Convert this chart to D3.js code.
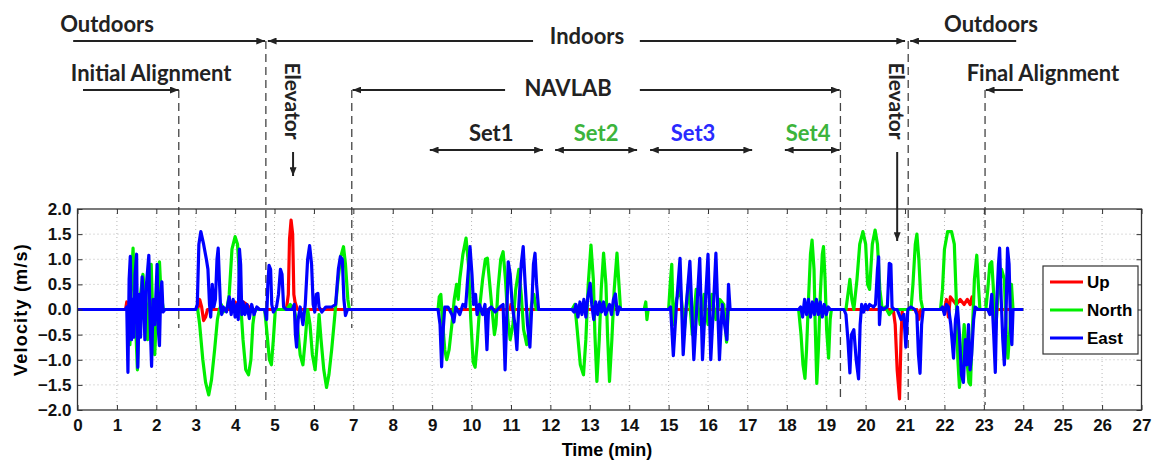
<!DOCTYPE html>
<html>
<head>
<meta charset="utf-8">
<script src="https://cdn.jsdelivr.net/npm/d3@7"></script>
<style>
  html, body { margin: 0; padding: 0; background: #fff; }
  svg { display: block; }
  .tick text { font-family: 'Liberation Sans', Arial, sans-serif; font-weight: bold; font-size: 17px; fill: #111; }
</style>
</head>
<body>
<svg id="chart" width="1155" height="461"></svg>
<script>
// Velocity components (m/s) against time (min), as [time, value] pairs
const upSeries = [
  [0,0],[1.22,0],[1.25,0.15],[1.28,-0.05],[1.32,0],
  [3.05,0],[3.1,0.2],[3.15,0.05],[3.2,-0.22],[3.25,-0.15],[3.3,0],
  [3.9,0],[3.95,0.1],[4.0,0.15],[4.1,0.05],[4.2,0.15],[4.3,0.1],[4.4,0],
  [5.3,0],[5.35,0.3],[5.38,1.4],[5.42,1.78],[5.46,1.5],[5.49,0.3],[5.52,0.15],[5.58,0],
  [10.98,0],[11.0,0.1],[11.03,0],
  [20.7,0],[20.75,-0.3],[20.8,-1.2],[20.86,-1.78],[20.9,-0.5],[20.93,0],
  [21.3,0],[21.35,-0.2],[21.4,0],
  [22.0,0],[22.05,0.2],[22.1,-0.15],[22.15,0.25],[22.25,0.15],[22.3,0.1],[22.4,0.2],
  [22.5,0.1],[22.58,0.2],[22.65,0.1],[22.7,0.25],[22.75,0],[24,0]
];

const northSeries = [
  [0,0],[1.3,0],[1.33,-0.7],[1.37,0.6],[1.41,1.22],[1.45,0.3],[1.49,-0.6],[1.52,-1.2],[1.56,-0.3],
  [1.6,0.3],[1.66,0.7],[1.72,0.2],[1.78,-0.6],[1.82,0.4],[1.87,0.9],[1.92,-0.4],[1.96,-0.9],
  [2.02,0.2],[2.08,0.95],[2.12,0.3],[2.18,0],
  [3.05,0],[3.1,-0.3],[3.18,-1.0],[3.25,-1.45],[3.33,-1.7],[3.4,-1.4],[3.48,-0.8],[3.55,-0.2],
  [3.6,0],[3.65,0.1],[3.7,-0.05],[3.8,0.05],[3.85,0.3],[3.92,1.2],[4.0,1.45],[4.06,1.3],[4.1,0.8],
  [4.15,0],[4.2,-0.6],[4.27,-1.2],[4.34,-1.3],[4.4,-1.0],[4.45,-0.3],[4.5,0],
  [4.75,0],[4.8,-0.4],[4.87,-1.0],[4.92,-1.1],[4.97,-0.6],[5.02,0],[5.3,0],[5.4,0.1],[5.5,0],
  [5.58,-0.3],[5.65,-0.9],[5.72,-1.1],[5.78,-0.6],[5.84,0],[5.9,-0.3],[5.96,-0.9],[6.03,-1.2],
  [6.08,-0.7],[6.13,-0.1],[6.18,-0.6],[6.25,-1.2],[6.32,-1.55],[6.38,-1.3],[6.45,-0.8],[6.52,-0.2],
  [6.6,0.5],[6.68,1.05],[6.75,1.25],[6.8,0.9],[6.86,0.2],[6.9,0],
  [9.15,0],[9.18,0.25],[9.22,0.3],[9.26,-0.2],[9.32,-0.8],[9.37,-1.0],[9.43,-0.8],[9.5,-0.3],
  [9.56,0.2],[9.62,0.5],[9.66,0.2],[9.7,0.6],[9.78,1.1],[9.86,1.42],[9.92,0.9],[9.98,-0.2],
  [10.04,-1.05],[10.09,-1.15],[10.14,-0.7],[10.2,0],[10.28,0.6],[10.35,1.0],[10.4,1.02],[10.45,0.6],
  [10.52,0],[10.58,-0.5],[10.62,-0.3],[10.67,0.4],[10.74,1.0],[10.8,1.15],[10.86,0.6],[10.92,-0.2],
  [10.98,-0.6],[11.05,-0.3],[11.12,0.4],[11.2,0.8],[11.26,0.3],[11.32,-0.4],[11.4,-0.7],[11.46,-0.4],
  [11.52,0.1],[11.58,0.3],[11.64,0],
  [12.55,0],[12.62,0.1],[12.68,-0.4],[12.76,-1.1],[12.84,-1.3],[12.9,-0.6],[12.96,0.5],[13.03,1.28],
  [13.09,0.6],[13.13,-0.5],[13.18,-1.43],[13.24,-0.6],[13.29,0.4],[13.35,1.12],[13.41,0.5],[13.45,-0.5],
  [13.5,-1.43],[13.56,-0.6],[13.62,0.4],[13.69,1.12],[13.74,0.5],[13.78,0],
  [14.38,0],[14.42,0.15],[14.45,-0.2],[14.48,0],
  [15.0,0],[15.04,0.5],[15.08,0.9],[15.12,-0.3],[15.2,0.2],[15.3,0.4],[15.4,-0.4],[15.5,0.5],
  [15.6,-0.5],[15.7,0.4],[15.8,-0.3],[15.9,0.3],[16.0,-0.3],[16.1,0.3],[16.2,-0.2],[16.3,0.2],
  [16.4,0.1],[16.47,-0.65],[16.52,0.05],[16.55,0],
  [18.3,0],[18.36,-0.5],[18.41,-1.1],[18.46,-1.37],[18.5,-0.8],[18.55,0.2],[18.6,1.1],[18.64,1.38],
  [18.69,0.8],[18.72,-0.3],[18.76,-1.47],[18.8,-0.8],[18.85,0.3],[18.9,1.1],[18.93,1.25],[18.97,0.6],
  [19.01,-0.4],[19.06,-0.97],[19.1,-0.2],[19.13,0],
  [19.5,0],[19.55,0.3],[19.6,0.6],[19.65,0.2],[19.7,0],[19.78,0.6],[19.85,1.3],[19.93,1.55],
  [20.0,1.3],[20.05,0.5],[20.1,0.4],[20.17,1.3],[20.24,1.58],[20.3,1.3],[20.36,0.4],[20.42,0],
  [20.5,0.05],[20.6,-0.1],[20.7,0],
  [21.15,0],[21.2,0.5],[21.26,1.3],[21.3,1.5],[21.35,1.0],[21.4,0.2],[21.45,0],
  [21.9,0],[21.95,0.4],[22.0,1.2],[22.08,1.55],[22.18,1.55],[22.25,1.3],[22.3,0.2],[22.34,-1.0],
  [22.38,-1.55],[22.44,-1.0],[22.5,-0.3],[22.56,-0.9],[22.62,-1.45],[22.66,-1.5],[22.7,-0.6],
  [22.76,0.6],[22.82,1.08],[22.86,0.5],[22.9,0],
  [23.05,0],[23.1,0.4],[23.15,0.9],[23.2,0.95],[23.25,0.3],[23.3,-0.4],[23.35,0.2],[23.45,0.8],
  [23.52,0.6],[23.57,-0.5],[23.61,-0.97],[23.66,-0.4],[23.7,0.5],[23.74,0],[24,0]
];

const eastSeries = [
  [0,0],[1.22,0],
  [1.25,0.05],[1.28,-1.25],[1.31,0.6],[1.34,1.06],[1.37,-0.6],[1.4,0.2],[1.43,-0.55],[1.46,0.7],
  [1.5,1.1],[1.53,-1.15],[1.57,0.3],[1.6,-0.55],[1.64,0.65],[1.68,0.15],[1.71,-0.6],[1.75,0.5],
  [1.81,1.08],[1.84,-0.2],[1.88,-1.13],[1.92,0.2],[1.96,-0.3],[2.02,0.9],[2.05,-0.4],[2.08,-0.72],
  [2.11,0.3],[2.14,0.55],[2.17,-0.05],[2.22,0],
  [3.0,0],[3.04,0.1],[3.08,1.3],[3.13,1.55],[3.2,1.3],[3.27,1.0],[3.31,0.8],[3.35,0.1],[3.38,-0.15],
  [3.42,0.5],[3.46,0.05],[3.5,0.2],[3.54,1.0],[3.57,1.22],[3.6,0.6],[3.63,0.05],[3.66,-0.1],[3.7,0.05],
  [3.78,-0.05],[3.85,0.25],[3.9,-0.1],[3.95,0.2],[4.0,-0.15],[4.05,0.1],[4.08,-0.2],[4.11,1.2],
  [4.14,0.9],[4.17,-0.1],[4.2,0.15],[4.25,-0.1],[4.3,0.1],[4.36,-0.18],[4.42,0.1],[4.48,-0.1],
  [4.55,0.05],[4.62,0],
  [4.75,0],[4.8,-0.2],[4.83,0.5],[4.86,0.88],[4.9,0.8],[4.93,0.1],[4.97,-0.05],[5.05,0.05],[5.1,0.3],
  [5.15,0.8],[5.19,0.7],[5.23,0.05],[5.3,0],[5.45,0],[5.5,0.1],[5.53,-0.5],[5.56,-0.75],[5.6,-0.2],
  [5.65,0.05],[5.72,-0.3],[5.78,0.1],[5.84,1.0],[5.89,1.27],[5.94,0.9],[5.98,0.1],[6.02,-0.05],
  [6.06,0.3],[6.1,0.32],[6.13,0.05],[6.2,-0.05],[6.3,0.05],[6.45,0.05],[6.55,0.1],[6.62,0.8],
  [6.67,1.05],[6.72,1.0],[6.76,0.2],[6.8,-0.12],[6.85,0],
  [9.15,0],[9.2,-0.3],[9.24,-1.14],[9.28,-0.4],[9.32,0.05],[9.4,0.05],[9.5,-0.1],[9.55,-0.25],
  [9.6,0.05],[9.7,-0.1],[9.78,0.1],[9.85,0.05],[9.9,0.6],[9.96,1.25],[10.01,0.7],[10.05,0.1],
  [10.1,0.3],[10.14,-0.1],[10.2,0.1],[10.28,-0.1],[10.34,0.1],[10.39,-0.8],[10.43,0],[10.5,0.05],
  [10.6,-0.05],[10.72,0.05],[10.8,0.1],[10.85,-1.2],[10.89,-0.2],[10.93,0.95],[10.98,0.7],[11.03,0.1],
  [11.1,-0.3],[11.15,-0.8],[11.2,0.1],[11.26,0.9],[11.31,1.25],[11.36,0.5],[11.42,-0.3],[11.48,-0.75],
  [11.53,0.1],[11.57,0.9],[11.61,1.12],[11.65,0.5],[11.7,0],
  [12.55,0],[12.6,-0.05],[12.65,0.1],[12.7,-0.15],[12.75,0.15],[12.8,-0.1],[12.85,0.2],[12.9,-0.15],
  [12.95,0.25],[13.01,0.52],[13.05,0.1],[13.1,-0.2],[13.15,0.15],[13.2,-0.1],[13.25,0.15],[13.3,-0.05],
  [13.35,0.15],[13.4,-0.1],[13.5,0.1],[13.55,-0.1],[13.6,0.2],[13.65,0.31],[13.7,-0.1],[13.75,0.05],[13.8,0],
  [15.0,0],[15.05,0.05],[15.12,-0.92],[15.2,0.1],[15.29,1.02],[15.37,-0.9],[15.45,0.1],[15.54,0.96],
  [15.64,-1.0],[15.72,0.1],[15.79,1.02],[15.86,-1.0],[15.93,0.1],[16.0,1.1],[16.07,-1.0],[16.14,0.1],
  [16.2,1.12],[16.29,-1.0],[16.36,0.1],[16.42,-0.3],[16.48,-0.6],[16.52,0.5],[16.56,0],
  [18.3,0],[18.35,0.05],[18.4,-0.15],[18.45,0.2],[18.5,-0.1],[18.55,0.2],[18.6,-0.15],[18.65,0.15],
  [18.7,-0.1],[18.75,0.2],[18.8,-0.1],[18.85,0.15],[18.9,-0.15],[18.95,0.1],[19.0,-0.1],[19.05,0.05],[19.1,0],
  [19.45,0],[19.5,-0.1],[19.55,-0.6],[19.6,-1.26],[19.64,-0.5],[19.7,-0.4],[19.76,-1.0],[19.82,-1.38],
  [19.86,-0.3],[19.9,0.1],[19.95,-0.05],[20.0,0.1],[20.05,0],[20.1,0.1],[20.2,0.05],[20.25,0.1],
  [20.3,0.8],[20.33,1.05],[20.35,-0.3],[20.38,0.05],[20.45,0],[20.55,0.05],[20.6,0.92],[20.64,0.9],
  [20.67,0.05],[20.72,0],[20.8,0],[20.9,-0.2],[20.97,-0.1],[21.02,-0.75],[21.07,0],[21.15,0.05],
  [21.25,0],[21.3,-0.1],[21.34,-0.9],[21.38,-1.27],[21.42,-0.3],[21.46,0],
  [21.9,0],[21.95,0.05],[22.0,-0.1],[22.05,0.1],[22.1,0.05],[22.16,-0.3],[22.23,-0.97],[22.28,-0.2],
  [22.33,0.05],[22.38,-0.5],[22.43,-1.3],[22.48,-1.45],[22.53,-0.6],[22.57,-1.1],[22.61,-0.3],
  [22.65,-1.2],[22.69,-0.9],[22.74,-0.2],[22.78,0.05],[22.85,0],
  [23.1,0],[23.15,-0.1],[23.2,0.3],[23.25,-0.5],[23.29,-1.25],[23.33,0.2],[23.37,0.9],[23.4,1.22],
  [23.44,0.2],[23.48,-0.6],[23.52,-1.1],[23.56,-0.2],[23.6,1.22],[23.64,0.9],[23.68,-0.4],[23.71,-0.7],
  [23.74,0],[24,0]
];

const seriesNames = ["Up", "North", "East"];
const seriesColors = ["#ff0000", "#00ee00", "#0000ff"];
const seriesData = [upSeries, northSeries, eastSeries];

const xTicks = d3.range(0, 28, 1);
const yTicks = [-2.0, -1.5, -1.0, -0.5, 0.0, 0.5, 1.0, 1.5, 2.0];

// Experiment phases (min): end of initial alignment, elevator down, NAVLAB start/end, elevator up, final alignment start
const phaseTimes = { alignEnd: 2.57, elevatorIn: 4.78, navStart: 6.96, navEnd: 19.36, elevatorOut: 21.08, finalStart: 23.03 };

const svg = d3.select("#chart");
const x = d3.scaleLinear().domain([0, 27]).range([77.5, 1141.5]);
const y = d3.scaleLinear().domain([-2, 2]).range([410, 209]);
const [x0, x1] = x.range();
const [yb, yt] = y.range();
const axisFont = "'Liberation Sans', Arial, sans-serif";
const noteFont = "Lato, sans-serif";

// grid
const grid = svg.append("g").attr("stroke", "#b8b8b8").attr("stroke-width", 1).attr("stroke-dasharray", "1,3");
grid.selectAll("line.v").data(xTicks.slice(1, -1)).join("line")
  .attr("x1", d => x(d)).attr("x2", d => x(d)).attr("y1", yt).attr("y2", yb);
grid.selectAll("line.h").data(yTicks.slice(1, -1)).join("line")
  .attr("x1", x0).attr("x2", x1).attr("y1", d => y(d)).attr("y2", d => y(d));

// phase boundaries (dashed)
const dashes = [
  { t: phaseTimes.alignEnd, y1: 90, y2: 328 },
  { t: phaseTimes.elevatorIn, y1: 41, y2: 405 },
  { t: phaseTimes.navStart, y1: 90, y2: 328 },
  { t: phaseTimes.navEnd, y1: 90, y2: 400 },
  { t: phaseTimes.elevatorOut, y1: 41, y2: 400 },
  { t: phaseTimes.finalStart, y1: 90, y2: 405 }
];
svg.append("g").selectAll("line").data(dashes).join("line")
  .attr("x1", d => x(d.t)).attr("x2", d => x(d.t))
  .attr("y1", d => d.y1).attr("y2", d => d.y2)
  .attr("stroke", "#444").attr("stroke-width", 1.3).attr("stroke-dasharray", "8,5");

// data lines
const line = d3.line().x(d => x(d[0])).y(d => y(d[1]));
svg.append("g").selectAll("path").data(seriesData).join("path")
  .attr("d", line).attr("fill", "none")
  .attr("stroke", (d, i) => seriesColors[i]).attr("stroke-width", 3.2)
  .attr("stroke-linejoin", "round");

// axes
const fmt = d3.format(".1f");
svg.append("g").attr("transform", `translate(0,${yb})`)
  .call(d3.axisBottom(x).tickValues(xTicks).tickFormat(d3.format("d")).tickSizeInner(-5).tickSizeOuter(0).tickPadding(9))
  .call(g => g.select(".domain").remove());
svg.append("g").attr("transform", `translate(0,${yt})`)
  .call(d3.axisTop(x).tickValues(xTicks).tickFormat("").tickSizeInner(-5).tickSizeOuter(0))
  .call(g => g.select(".domain").remove());
svg.append("g").attr("transform", `translate(${x0},0)`)
  .call(d3.axisLeft(y).tickValues(yTicks).tickFormat(fmt).tickSizeInner(-5).tickSizeOuter(0).tickPadding(6))
  .call(g => g.select(".domain").remove());
svg.append("g").attr("transform", `translate(${x1},0)`)
  .call(d3.axisRight(y).tickValues(yTicks).tickFormat("").tickSizeInner(-5).tickSizeOuter(0))
  .call(g => g.select(".domain").remove());
svg.selectAll(".tick line").attr("stroke", "#333");

svg.append("rect").attr("x", x0).attr("y", yt).attr("width", x1 - x0).attr("height", yb - yt)
  .attr("fill", "none").attr("stroke", "#333").attr("stroke-width", 1.3);

svg.append("text").attr("x", 607).attr("y", 456).attr("text-anchor", "middle")
  .style("font-family", axisFont).style("font-weight", "bold").style("font-size", "18px")
  .text("Time (min)");
svg.append("text").attr("transform", `translate(27,${(yt + yb) / 2}) rotate(-90)`).attr("text-anchor", "middle")
  .style("font-family", axisFont).style("font-weight", "bold").style("font-size", "18px")
  .style("letter-spacing", "1.2px")
  .text("Velocity (m/s)");

// legend
const lg = svg.append("g").attr("transform", "translate(1043,266)");
lg.append("rect").attr("width", 95).attr("height", 88).attr("fill", "#fff").attr("stroke", "#333").attr("stroke-width", 1.2);
seriesNames.forEach((name, i) => {
  const ly = 16 + i * 28;
  lg.append("line").attr("x1", 7).attr("x2", 40).attr("y1", ly).attr("y2", ly)
    .attr("stroke", seriesColors[i]).attr("stroke-width", 3);
  lg.append("text").attr("x", 44).attr("y", ly + 6)
    .style("font-family", axisFont).style("font-weight", "bold").style("font-size", "17px")
    .text(name);
});

// phase annotations
const defs = svg.append("defs");
defs.append("marker").attr("id", "head").attr("viewBox", "0 0 10 8").attr("refX", 10).attr("refY", 4)
  .attr("markerWidth", 9).attr("markerHeight", 7).attr("markerUnits", "userSpaceOnUse")
  .attr("orient", "auto-start-reverse")
  .append("path").attr("d", "M0,0 L10,4 L0,8 z").attr("fill", "#222");

const spans = [
  { a: -0.11, b: 4.76, y: 41, end: true },
  { a: 4.83, b: 11.56, y: 41, start: true },
  { a: 14.27, b: 21.0, y: 41, end: true },
  { a: 21.13, b: 23.82, y: 41, start: true },
  { a: 0.14, b: phaseTimes.alignEnd, y: 90, end: true },
  { a: 6.98, b: 10.85, y: 90, start: true },
  { a: 14.27, b: 19.34, y: 90, end: true },
  { a: 23.05, b: 23.99, y: 90, start: true },
  { a: 8.94, b: 11.81, y: 150, start: true, end: true },
  { a: 12.12, b: 14.2, y: 150, start: true, end: true },
  { a: 14.53, b: 17.12, y: 150, start: true, end: true },
  { a: 17.95, b: 19.34, y: 150, start: true, end: true }
];
svg.append("g").selectAll("line").data(spans).join("line")
  .attr("x1", d => x(d.a)).attr("x2", d => x(d.b)).attr("y1", d => d.y).attr("y2", d => d.y)
  .attr("stroke", "#222").attr("stroke-width", 2)
  .attr("marker-start", d => d.start ? "url(#head)" : null)
  .attr("marker-end", d => d.end ? "url(#head)" : null);

const labels = [
  { t: 0.75, y: 32, text: "Outdoors", color: "#222" },
  { t: 12.93, y: 44, text: "Indoors", color: "#222" },
  { t: 23.18, y: 32, text: "Outdoors", color: "#222" },
  { t: 1.87, y: 81, text: "Initial Alignment", color: "#222" },
  { t: 12.45, y: 96, text: "NAVLAB", color: "#222" },
  { t: 24.5, y: 81, text: "Final Alignment", color: "#222" },
  { t: 10.5, y: 141, text: "Set1", color: "#222" },
  { t: 13.16, y: 141, text: "Set2", color: "#3cb43c" },
  { t: 15.62, y: 141, text: "Set3", color: "#2a2aff" },
  { t: 18.54, y: 141, text: "Set4", color: "#3cb43c" }
];
svg.append("g").selectAll("text").data(labels).join("text")
  .attr("x", d => x(d.t)).attr("y", d => d.y).attr("text-anchor", "middle")
  .style("font-family", noteFont).style("font-weight", "bold").style("font-size", "22px")
  .attr("fill", d => d.color).text(d => d.text);

// elevator markers
const elevators = [
  { t: 5.47, arrowTop: 152, arrowTip: 176 },
  { t: 20.8, arrowTop: 152, arrowTip: 241 }
];
elevators.forEach(e => {
  svg.append("text").attr("transform", `translate(${x(e.t)},101) rotate(90)`)
    .attr("text-anchor", "middle").attr("dominant-baseline", "central")
    .style("font-family", noteFont).style("font-weight", "bold").style("font-size", "21px")
    .attr("fill", "#222").text("Elevator");
  svg.append("line").attr("x1", x(e.t)).attr("x2", x(e.t)).attr("y1", e.arrowTop).attr("y2", e.arrowTip)
    .attr("stroke", "#222").attr("stroke-width", 2).attr("marker-end", "url(#head)");
});
</script>
</body>
</html>
